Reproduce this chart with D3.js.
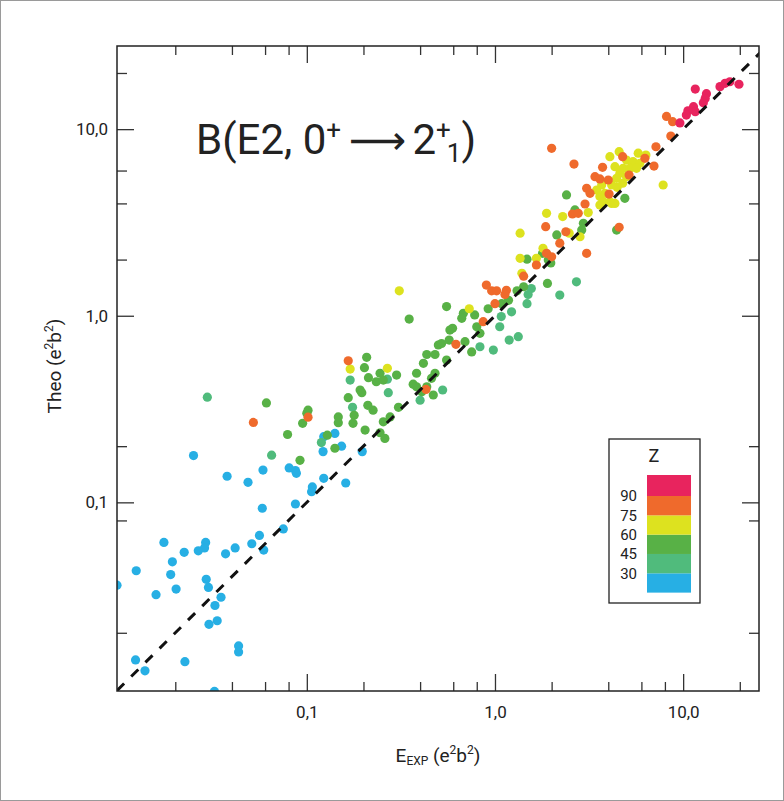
<!DOCTYPE html>
<html>
<head>
<meta charset="utf-8">
<script src="https://cdn.jsdelivr.net/npm/d3@7"></script>
<style>
  body { margin: 0; background: #fff; }
  text { font-family: Roboto, "DejaVu Sans", sans-serif; fill: #222; }
</style>
</head>
<body>
<div id="chart"></div>
<script>
// B(E2) theory vs experiment, values in e^2 b^2, grouped by the Z colour band
const bandZ = [22, 38, 52, 68, 82, 96];   // representative Z of each colour band
const bandColors = ["#27afe4", "#50bb7c", "#58b146", "#dde21f", "#ef6a2c", "#e8245e"];
const zThresholds = [30, 45, 60, 75, 90];
const zLabels = [30, 45, 60, 75, 90];

// [B(E2) exp, B(E2) theo]
const ptsZ22 = [[0.058,0.093],[0.087,0.098],[0.0174,0.061],[0.029,0.061],[0.0286,0.057],[0.0223,0.054],
  [0.0265,0.055],[0.037,0.053],[0.0416,0.057],[0.051,0.060],[0.056,0.0665],[0.059,0.0555],[0.075,0.072],
  [0.0193,0.048],[0.0189,0.041],[0.0124,0.043],[0.0098,0.036],[0.0202,0.0343],[0.0158,0.032],[0.0292,0.0387],
  [0.030,0.035],[0.035,0.031],[0.0325,0.028],[0.0302,0.0222],[0.0334,0.0232],[0.0434,0.017],[0.0434,0.0158],
  [0.0123,0.0143],[0.0138,0.0125],[0.0225,0.014],[0.0323,0.0097],[0.025,0.178],[0.0377,0.138],[0.0487,0.128],
  [0.0585,0.149],[0.0806,0.153],[0.087,0.148],[0.088,0.143],[0.107,0.121],[0.106,0.114],[0.123,0.1345],
  [0.161,0.127],[0.122,0.187],[0.141,0.234],[0.153,0.20],[0.197,0.187],[0.123,0.225]];
const ptsZ38 = [[0.0296,0.366],[0.065,0.179],[0.1195,0.209],[0.175,0.323],[0.17,0.452],[0.268,0.457],
  [0.271,0.387],[0.527,0.40],[0.40,0.353],[0.832,0.682],[0.98,0.655],[1.08,0.99],[1.06,0.873],[1.19,0.741],
  [1.33,0.772],[1.225,1.05],[1.56,1.40],[1.50,1.30],[1.48,1.16],[2.21,1.29],[2.71,1.52]];
const ptsZ52 = [[0.061,0.341],[0.079,0.231],[0.092,0.168],[0.1015,0.312],[0.10,0.30],[0.095,0.265],
  [0.1285,0.229],[0.141,0.195],[0.147,0.287],[0.147,0.267],[0.166,0.364],[0.1785,0.293],[0.176,0.265],
  [0.208,0.599],[0.2024,0.527],[0.2126,0.466],[0.192,0.400],[0.196,0.387],[0.211,0.331],[0.225,0.312],
  [0.204,0.244],[0.234,0.443],[0.245,0.492],[0.255,0.452],[0.30,0.481],[0.307,0.323],[0.277,0.287],
  [0.255,0.270],[0.245,0.236],[0.26,0.22],[0.35,0.96],[0.434,0.62],[0.4165,0.556],[0.50,0.697],[0.52,0.71],
  [0.383,0.492],[0.48,0.492],[0.3675,0.43],[0.383,0.416],[0.4085,0.392],[0.434,0.416],[0.46,0.462],
  [0.47,0.376],[0.553,0.579],[0.576,0.838],[0.553,1.12],[0.679,1.03],[0.666,0.969],[0.595,0.856],
  [0.571,0.741],[0.48,0.62],[0.693,0.726],[0.752,0.64],[0.832,0.805],[0.80,0.873],[0.78,1.01],[0.92,1.09],
  [1.085,1.16],[1.18,1.21],[1.31,1.36],[1.42,1.43],[1.48,2.01],[1.92,1.99],[1.98,1.92],[1.90,1.49],
  [2.13,2.71],[2.95,3.13],[2.89,2.88],[4.43,2.88],[2.40,4.44],[4.9,4.26],[2.66,3.69],[1.79,2.16]];
const ptsZ68 = [[0.17,0.518],[0.268,0.523],[0.31,1.36],[0.73,1.09],[1.39,1.69],[1.36,2.77],[1.36,2.03],
  [1.66,2.03],[1.80,2.30],[1.88,3.54],[2.29,3.40],[2.48,2.77],[2.83,2.65],[3.13,3.57],[3.61,3.92],[4.17,4.0],
  [4.57,7.57],[4.08,7.12],[5.77,7.43],[6.34,7.27],[5.0,6.83],[5.42,6.69],[5.89,6.56],[4.34,6.29],[4.8,6.17],
  [5.21,6.17],[5.65,6.17],[4.61,5.80],[5.0,5.56],[4.43,5.45],[4.17,5.02],[4.77,5.13],[3.69,5.02],[3.47,4.72],
  [3.84,4.53],[3.61,4.35],[4.08,4.08],[4.34,4.0],[3.76,4.08],[7.83,5.02],[4.46,4.88]];
const ptsZ82 = [[0.052,0.268],[0.1015,0.286],[0.166,0.574],[0.43,0.403],[0.62,0.703],[0.866,0.93],
  [0.96,1.36],[1.02,1.36],[0.90,1.46],[1.0,1.16],[1.15,1.37],[1.13,1.30],[1.42,1.63],[1.66,1.87],[1.88,2.16],
  [2.0,2.07],[1.86,3.00],[2.38,2.82],[2.21,2.45],[2.58,3.51],[2.77,3.54],[3.07,2.16],[3.01,3.97],[4.57,2.98],
  [8.16,11.7],[8.79,10.96],[8.6,9.19],[7.17,8.05],[7.0,6.34],[6.26,6.98],[2.0,7.89],[2.63,6.5],[3.73,6.24],
  [4.77,7.12],[3.40,5.56],[3.61,5.41],[4.0,5.34],[3.07,4.82],[3.2,4.53],[5.16,5.68],[4.04,4.49]];
const ptsZ96 = [[11.6,16.4],[15.7,16.9],[16.7,17.6],[17.7,17.95],[19.8,17.4],[13.3,15.5],[13.1,14.6],
  [12.8,13.85],[11.35,13.2],[11.6,12.4],[10.6,12.55],[10.4,11.9],[9.61,10.8]];

const xMajor = [0.1, 1, 10];
const xMinor = [0.02, 0.04, 0.06, 0.08, 0.2, 0.4, 0.6, 0.8, 2, 4, 6, 8, 20];
const yMajor = [0.1, 1, 10];
const yMinor = [0.02, 0.08, 0.2, 2, 4, 6, 20];

const width = 784;
const height = 801;
const margin = {top: 46, right: 25, bottom: 110, left: 117};

const x = d3.scaleLog()
    .domain([0.0098, 25.3])
    .range([margin.left, width - margin.right]);
const y = d3.scaleLog()
    .domain([0.00975, 27.9])
    .range([height - margin.bottom, margin.top]);

const color = d3.scaleThreshold()
    .domain(zThresholds)
    .range(bandColors);

const data = [];
[ptsZ22, ptsZ38, ptsZ52, ptsZ68, ptsZ82, ptsZ96].forEach((pts, i) => {
    pts.forEach(p => data.push({exp: p[0], theo: p[1], z: bandZ[i]}));
});

const fmt = d => d3.format(".1f")(d).replace(".", ",");

const svg = d3.select("#chart").append("svg")
    .attr("width", width)
    .attr("height", height)
    .attr("viewBox", [0, 0, width, height]);

// thin frame round the whole figure
svg.append("rect")
    .attr("x", 0.5).attr("y", 0.5)
    .attr("width", width - 1).attr("height", height - 1)
    .attr("fill", "none")
    .attr("stroke", "#9a9a9a");

svg.append("clipPath").attr("id", "plot-clip")
    .append("rect")
    .attr("x", margin.left).attr("y", margin.top)
    .attr("width", width - margin.left - margin.right)
    .attr("height", height - margin.top - margin.bottom);

const styleAxis = g => {
    g.select(".domain").remove();
    g.selectAll(".tick line").attr("stroke", "#333").attr("stroke-width", 1.3);
    g.attr("font-family", "Roboto, sans-serif").attr("font-size", 17);
    g.selectAll(".tick text").attr("fill", "#222");
};

const bottom = height - margin.bottom;
const right = width - margin.right;

// bottom
svg.append("g").attr("transform", `translate(0,${bottom})`)
    .call(d3.axisBottom(x).tickValues(xMajor).tickSize(-17).tickPadding(15).tickFormat(fmt))
    .call(styleAxis);
svg.append("g").attr("transform", `translate(0,${bottom})`)
    .call(d3.axisBottom(x).tickValues(xMinor).tickSize(-9).tickFormat(""))
    .call(styleAxis);
// top
svg.append("g").attr("transform", `translate(0,${margin.top})`)
    .call(d3.axisTop(x).tickValues(xMajor).tickSize(-17).tickFormat(""))
    .call(styleAxis);
svg.append("g").attr("transform", `translate(0,${margin.top})`)
    .call(d3.axisTop(x).tickValues(xMinor).tickSize(-9).tickFormat(""))
    .call(styleAxis);
// left
svg.append("g").attr("transform", `translate(${margin.left},0)`)
    .call(d3.axisLeft(y).tickValues(yMajor).tickSize(-17).tickPadding(9).tickFormat(fmt))
    .call(styleAxis);
svg.append("g").attr("transform", `translate(${margin.left},0)`)
    .call(d3.axisLeft(y).tickValues(yMinor).tickSize(-10).tickFormat(""))
    .call(styleAxis);
// right
svg.append("g").attr("transform", `translate(${right},0)`)
    .call(d3.axisRight(y).tickValues(yMajor).tickSize(-17).tickFormat(""))
    .call(styleAxis);
svg.append("g").attr("transform", `translate(${right},0)`)
    .call(d3.axisRight(y).tickValues(yMinor).tickSize(-10).tickFormat(""))
    .call(styleAxis);

// points
svg.append("g")
    .attr("clip-path", "url(#plot-clip)")
    .selectAll("circle")
    .data(data)
    .join("circle")
    .attr("cx", d => x(d.exp))
    .attr("cy", d => y(d.theo))
    .attr("r", 4.6)
    .attr("fill", d => color(d.z));

// y = x reference line
const diag = x.domain();
svg.append("line")
    .attr("clip-path", "url(#plot-clip)")
    .attr("x1", x(diag[0])).attr("y1", y(diag[0]))
    .attr("x2", x(30)).attr("y2", y(30))
    .attr("stroke", "#111")
    .attr("stroke-width", 3)
    .attr("stroke-dasharray", "10,10");

// plot frame
svg.append("rect")
    .attr("x", margin.left).attr("y", margin.top)
    .attr("width", width - margin.left - margin.right)
    .attr("height", height - margin.top - margin.bottom)
    .attr("fill", "none")
    .attr("stroke", "#222")
    .attr("stroke-width", 1.5);

// title
const title = svg.append("text")
    .attr("x", 196)
    .attr("y", 154)
    .attr("font-size", 42);
title.append("tspan").text("B(E2, 0");
title.append("tspan").attr("font-size", 26).attr("dy", -15).text("+");
title.append("tspan").attr("dy", 15).attr("dx", 8)
    .attr("font-family", "DejaVu Sans").attr("font-size", 40).text("\u27F6");
title.append("tspan").attr("dx", 6).text("2");
title.append("tspan").attr("font-size", 26).attr("dy", -15).text("+");
title.append("tspan").attr("font-size", 26).attr("dy", 23).attr("dx", -4).text("1");
title.append("tspan").attr("dy", -8).text(")");

// axis titles
const xt = svg.append("text")
    .attr("x", 438)
    .attr("y", 762)
    .attr("text-anchor", "middle")
    .attr("font-size", 19);
xt.append("tspan").text("E");
xt.append("tspan").attr("font-size", 12).attr("dy", 3).text("EXP");
xt.append("tspan").attr("dy", -3).text(" (e");
xt.append("tspan").attr("font-size", 12).attr("dy", -8).text("2");
xt.append("tspan").attr("dy", 8).text("b");
xt.append("tspan").attr("font-size", 12).attr("dy", -8).text("2");
xt.append("tspan").attr("dy", 8).text(")");

const yt = svg.append("text")
    .attr("transform", "translate(61,366) rotate(-90)")
    .attr("text-anchor", "middle")
    .attr("font-size", 19);
yt.append("tspan").text("Theo (e");
yt.append("tspan").attr("font-size", 12).attr("dy", -8).text("2");
yt.append("tspan").attr("dy", 8).text("b");
yt.append("tspan").attr("font-size", 12).attr("dy", -8).text("2");
yt.append("tspan").attr("dy", 8).text(")");

// Z legend
const legend = svg.append("g");
legend.append("rect")
    .attr("x", 609).attr("y", 439)
    .attr("width", 91).attr("height", 164)
    .attr("fill", "#fff")
    .attr("stroke", "#222")
    .attr("stroke-width", 1.3);
legend.append("text")
    .attr("x", 654).attr("y", 462)
    .attr("text-anchor", "middle")
    .attr("font-size", 18)
    .text("Z");

const zScale = d3.scaleLinear().domain([30, 90]).range([573.3, 496]);
const bandEdges = [15, 30, 45, 60, 75, 90, 106.3];
legend.selectAll(".band")
    .data(d3.range(bandEdges.length - 1))
    .join("rect")
    .attr("class", "band")
    .attr("x", 647)
    .attr("width", 44)
    .attr("y", i => zScale(bandEdges[i + 1]))
    .attr("height", i => zScale(bandEdges[i]) - zScale(bandEdges[i + 1]))
    .attr("fill", i => color(bandEdges[i]));
legend.selectAll(".zlab")
    .data(zLabels)
    .join("text")
    .attr("class", "zlab")
    .attr("x", 637)
    .attr("y", d => zScale(d))
    .attr("dy", "0.35em")
    .attr("text-anchor", "end")
    .attr("font-size", 15)
    .text(d => d);
</script>
</body>
</html>
